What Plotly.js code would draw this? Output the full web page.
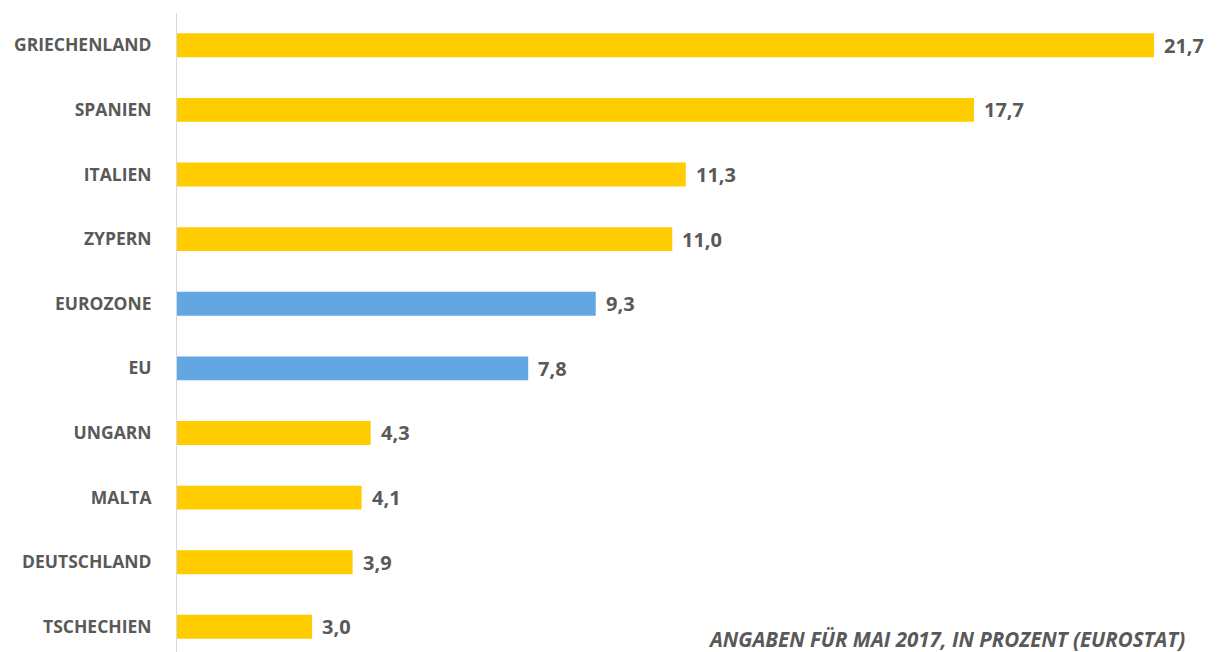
<!DOCTYPE html>
<html>
<head>
<meta charset="utf-8">
<script src="https://cdn.plot.ly/plotly-3.0.1.min.js"></script>
<style>html,body{margin:0;padding:0;background:#fff;}#chart{width:1218px;height:652px;}</style>
</head>
<body>
<div id="chart"></div>
<script>
const categories = ["GRIECHENLAND","SPANIEN","ITALIEN","ZYPERN","EUROZONE","EU","UNGARN","MALTA","DEUTSCHLAND","TSCHECHIEN"];
const values = [21.7, 17.7, 11.3, 11.0, 9.3, 7.8, 4.3, 4.1, 3.9, 3.0];
const groups = ["land","land","land","land","aggregat","aggregat","land","land","land","land"];
const footnote = "ANGABEN FÜR MAI 2017, IN PROZENT (EUROSTAT)";

const colorMap = {land: "#FFCC00", aggregat: "#62A7E2"};
const labels = values.map(v => v.toFixed(1).replace(".", ","));

const bars = {
  type: "bar",
  orientation: "h",
  x: values,
  y: categories,
  marker: {color: groups.map(g => colorMap[g])},
  hoverinfo: "none"
};

const valueAnnotations = values.map((v, i) => ({
  x: v, y: categories[i],
  xref: "x", yref: "y",
  text: labels[i],
  showarrow: false,
  xanchor: "left", yanchor: "middle",
  xshift: 8,
  font: {family: "Open Sans, sans-serif", size: 20, color: "#595959", weight: "bold"}
}));

const layout = {
  width: 1218,
  height: 652,
  margin: {l: 177, r: 0, t: 13, b: 0},
  paper_bgcolor: "#ffffff",
  plot_bgcolor: "#ffffff",
  showlegend: false,
  bargap: 0.63,
  xaxis: {range: [0, 23.12], showgrid: false, zeroline: false, showticklabels: false, showline: false, fixedrange: true},
  yaxis: {
    type: "category",
    range: [9.39, -0.5],
    showgrid: false,
    zeroline: false,
    showline: true,
    linecolor: "#d9d9d9",
    linewidth: 1,
    ticks: "",
    ticklabelstandoff: 21,
    tickfont: {family: "Open Sans, sans-serif", size: 17.5, color: "#595959", weight: "bold"}
  },
  annotations: valueAnnotations.concat([{
    text: footnote,
    xref: "paper", yref: "paper",
    x: (706 - 177) / 1041, y: -0.004,
    xanchor: "left", yanchor: "bottom",
    showarrow: false,
    font: {family: "Open Sans, sans-serif", size: 20.5, color: "#595959", style: "italic", weight: "bold"}
  }])
};

Plotly.newPlot("chart", [bars], layout, {displayModeBar: false, staticPlot: true});
</script>
</body>
</html>
